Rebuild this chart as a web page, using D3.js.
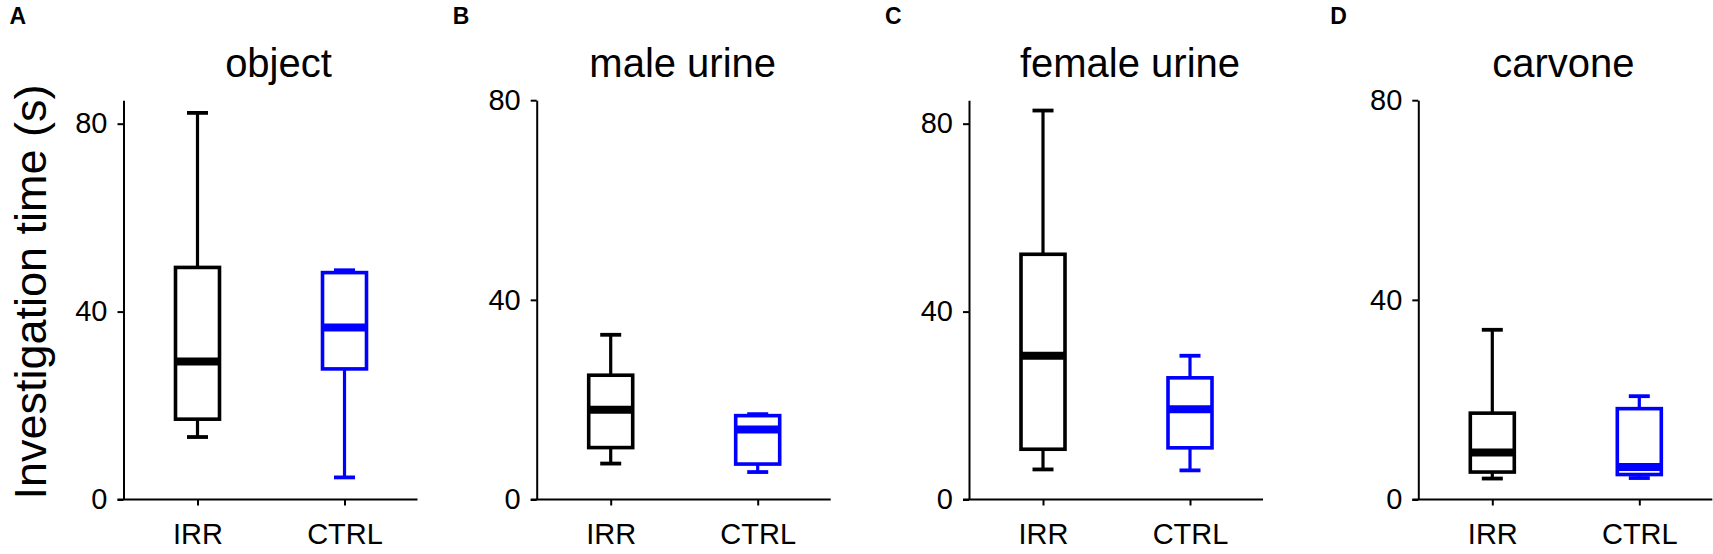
<!DOCTYPE html>
<html>
<head>
<meta charset="utf-8">
<script src="https://cdn.jsdelivr.net/npm/d3@7"></script>
<style>
  html, body { margin: 0; padding: 0; background: #fff; }
  svg { display: block; font-family: "Liberation Sans", Arial, Helvetica, sans-serif; }
</style>
</head>
<body>
<svg id="chart" width="1713" height="554"></svg>
<script>
// ---- data ----
const panelLetters = ["A", "B", "C", "D"];
const panelTitles = ["object", "male urine", "female urine", "carvone"];
const groups = ["IRR", "CTRL"];
const yMaxValues = [85, 80, 85, 80];
const yTickValues = [0, 40, 80];
// box statistics per panel: [min, q1, median, q3, max]
const irrStats = [
  [13.3, 17.1, 29.4, 49.4, 82.3],
  [7.2, 10.4, 18.0, 24.9, 33.0],
  [6.4, 10.7, 30.6, 52.2, 82.8],
  [4.2, 5.5, 9.4, 17.3, 34.0]
];
const ctrlStats = [
  [4.7, 27.8, 36.6, 48.3, 48.8],
  [5.5, 7.1, 14.0, 16.8, 17.1],
  [6.2, 11.0, 19.2, 25.9, 30.6],
  [4.3, 5.0, 6.5, 18.2, 20.7]
];
const yAxisLabel = "Investigation time (s)";

// ---- layout ----
const panelX = [123.5, 536.7, 969, 1418.3];
const titleDx = [155, 146, 161, 145];
const letterDx = [-114, -84, -84, -88];
const yBottom = 499.5;
const yTop = 100.2;
const axisLen = 294;
const colors = { IRR: "#000000", CTRL: "#0000ff" };
const boxW = 44, capW = 21;
const tickFont = 29;

const svg = d3.select("#chart");

panelLetters.forEach((letter, i) => {
  const g = svg.append("g").attr("transform", `translate(${panelX[i]},0)`);
  const y = d3.scaleLinear().domain([0, yMaxValues[i]]).range([yBottom, yTop]);
  const x = d3.scalePoint().domain(groups).range([74, 221]);

  // y axis
  const ya = g.append("g").call(d3.axisLeft(y).tickValues(yTickValues).tickSize(6).tickSizeOuter(0).tickPadding(10));
  ya.select(".domain").attr("stroke", "#000").attr("stroke-width", 2);
  ya.selectAll(".tick line").attr("stroke", "#000").attr("stroke-width", 2);
  ya.selectAll(".tick text").attr("font-size", tickFont).attr("fill", "#000")
    .attr("font-family", "'Liberation Sans', Arial, sans-serif");

  // x axis
  const xa = g.append("g").attr("transform", `translate(0,${yBottom})`)
    .call(d3.axisBottom(x).tickSize(6).tickSizeOuter(0).tickPadding(18));
  xa.select(".domain").attr("d", `M${-6},0H${axisLen}`).attr("stroke", "#000").attr("stroke-width", 2);
  xa.selectAll(".tick line").attr("stroke", "#000").attr("stroke-width", 2);
  xa.selectAll(".tick text").attr("font-size", tickFont).attr("fill", "#000")
    .attr("font-family", "'Liberation Sans', Arial, sans-serif");

  // boxes
  const stats = [irrStats[i], ctrlStats[i]];
  groups.forEach((grp, k) => {
    const s = stats[k];
    const cx = x(grp);
    const c = colors[grp];
    const bg = g.append("g");
    // whiskers
    bg.append("line").attr("x1", cx).attr("x2", cx).attr("y1", y(s[4])).attr("y2", y(s[3]))
      .attr("stroke", c).attr("stroke-width", 3.2);
    bg.append("line").attr("x1", cx).attr("x2", cx).attr("y1", y(s[1])).attr("y2", y(s[0]))
      .attr("stroke", c).attr("stroke-width", 3.2);
    // caps
    [s[0], s[4]].forEach(v => {
      bg.append("line").attr("x1", cx - capW / 2).attr("x2", cx + capW / 2)
        .attr("y1", y(v)).attr("y2", y(v)).attr("stroke", c).attr("stroke-width", 3.8);
    });
    // box
    bg.append("rect").attr("x", cx - boxW / 2).attr("width", boxW)
      .attr("y", y(s[3])).attr("height", y(s[1]) - y(s[3]))
      .attr("fill", "#fff").attr("stroke", c).attr("stroke-width", 3.6);
    // median
    bg.append("line").attr("x1", cx - boxW / 2).attr("x2", cx + boxW / 2)
      .attr("y1", y(s[2])).attr("y2", y(s[2])).attr("stroke", c).attr("stroke-width", 8);
  });

  // title
  g.append("text").attr("x", titleDx[i]).attr("y", 77).attr("text-anchor", "middle")
    .attr("font-size", 40).attr("fill", "#000").text(panelTitles[i]);
  // letter
  g.append("text").attr("x", letterDx[i]).attr("y", 24).attr("font-size", 23)
    .attr("font-weight", "bold").attr("fill", "#000").text(letter);
});

// y axis label
svg.append("text")
  .attr("transform", "translate(46,292) rotate(-90)")
  .attr("text-anchor", "middle").attr("font-size", 45).attr("fill", "#000")
  .text(yAxisLabel);
</script>
</body>
</html>
